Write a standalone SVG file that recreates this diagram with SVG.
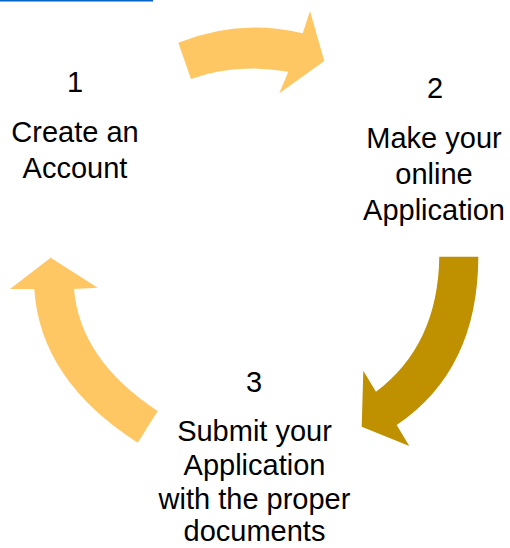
<svg xmlns="http://www.w3.org/2000/svg" width="510" height="548" viewBox="0 0 510 548">
<style>
.t{font-family:"Liberation Sans",Arial,sans-serif;font-size:29px;fill:#000;text-anchor:middle}
.light{fill:#FFC764}
.dark{fill:#BF9000}
</style>
<rect x="0" y="0" width="153" height="1.5" fill="#0563C1"/>
<g id="connectors">
<path class="light" d="M178.3,42.7 Q239.5,18 302.7,33.3 L310,11 L324.3,61 L279.3,93.3 L288.3,71.7 Q234.4,62.6 191,79 Z"/>
<path class="dark" d="M439.3,256.7 L478.3,256.7 Q478,370 396.7,425 L409.3,446 L361.7,426.7 L363.3,370.7 L376,391.7 Q438,345 439.3,256.7 Z"/>
<path class="light" d="M50.7,257.7 L97.7,287.7 L74,289 Q80,360 157.7,411 L137.7,442.7 Q40,380 34.3,289 L10,289 Z"/>
</g>
<g id="node1">
<text class="t" x="75" y="92">1</text>
<text class="t" x="75" y="142">Create an</text>
<text class="t" x="75" y="178">Account</text>
</g>
<g id="node2">
<text class="t" x="435" y="98">2</text>
<text class="t" x="434" y="148">Make your</text>
<text class="t" x="434" y="184">online</text>
<text class="t" x="434" y="220">Application</text>
</g>
<g id="node3">
<text class="t" x="254" y="392">3</text>
<text class="t" x="254.5" y="441">Submit your</text>
<text class="t" x="254.5" y="475">Application</text>
<text class="t" x="254.5" y="509">with the proper</text>
<text class="t" x="254.5" y="541">documents</text>
</g>
</svg>
